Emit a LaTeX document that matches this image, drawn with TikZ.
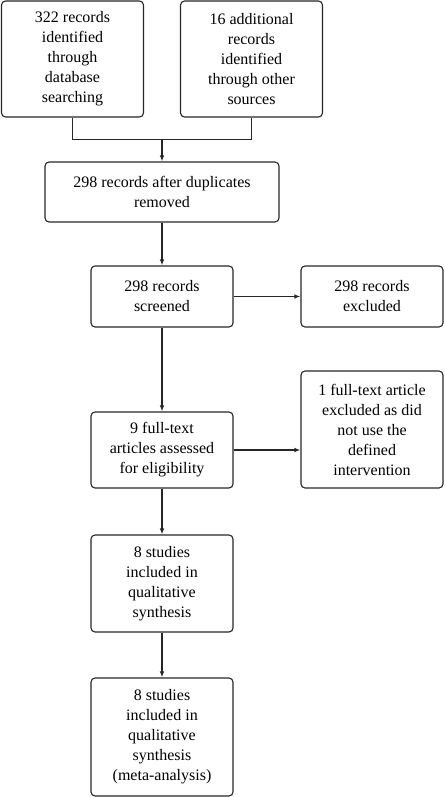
\documentclass[tikz,border=0pt]{standalone}
\usepackage{fontspec}
\setmainfont{Liberation Serif}
\usetikzlibrary{positioning,arrows.meta}

\begin{document}
\begin{tikzpicture}[node distance=1cm,on grid,auto,
				>={Latex[length=6pt,width=4.5pt]},
				line width=1.1pt,
				box/.style={rectangle, draw=black!85, rounded corners=4pt, align=center,
					inner sep=2pt, minimum width=142pt, font=\fontsize{16}{20}\selectfont},
				link/.style={draw=black!85, ->}
			]
			\useasboundingbox (0,0) rectangle (444pt,-797pt);
			
			\node[box, minimum height=116pt] (db) at (72.5pt,-59pt) {322 records\\identified\\through\\database\\searching};
			\node[box, minimum height=116pt] (other) [right=179pt of db] {16 additional\\records\\identified\\through other\\sources};
			
			\node[box, minimum width=234pt, minimum height=60pt] (dup) at (162pt,-192pt) {298 records after duplicates\\removed};
			\coordinate[above=22pt of dup.north] (merge);
			
			\node[box, minimum height=61pt] (screen) [below=104.5pt of dup] {298 records\\screened};
			\node[box, minimum height=61pt] (excl) [right=210pt of screen] {298 records\\excluded};
			
			\node[box, minimum height=76pt] (full) [below=153.5pt of screen] {9 full-text\\articles assessed\\for eligibility};
			\node[box, minimum height=117pt, anchor=south] (fexcl) at (full.south -| excl) {1 full-text article\\excluded as did\\not use the\\defined\\intervention};
			
			\node[box, minimum height=97pt] (qual) [below=133.5pt of full] {8 studies\\included in\\qualitative\\synthesis};
			\node[box, minimum height=118pt] (meta) [below=153.5pt of qual] {8 studies\\included in\\qualitative\\synthesis\\(meta-analysis)};
			
			\draw[draw=black!85] (db.south) |- (merge) -| (other.south);
			\draw[link] (merge) -- (dup.north);
			\draw[link] (dup.south) -- (screen.north);
			\draw[link] (screen.east) -- (excl.west);
			\draw[link] (screen.south) -- (full.north);
			\draw[link] (full.east) -- (full.east -| fexcl.west);
			\draw[link] (full.south) -- (qual.north);
			\draw[link] (qual.south) -- (meta.north);
		\end{tikzpicture}
\end{document}
